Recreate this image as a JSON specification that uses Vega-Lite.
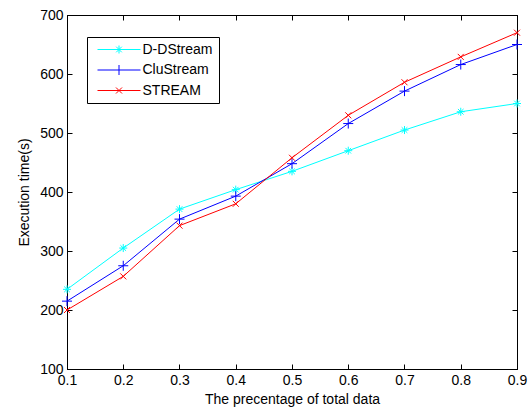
{
  "$schema": "https://vega.github.io/schema/vega-lite/v6.json",
  "width": 450,
  "height": 354,
  "autosize": "none",
  "padding": {"left": 67, "top": 15, "right": 15, "bottom": 38},
  "background": "white",
  "config": {
    "view": {"stroke": "black", "strokeWidth": 1},
    "font": "Liberation Sans",
    "axis": {
      "grid": false,
      "domainColor": "black",
      "tickColor": "black",
      "labelColor": "black",
      "titleColor": "black",
      "labelFont": "Liberation Sans",
      "titleFont": "Liberation Sans",
      "labelFontSize": 14,
      "titleFontSize": 14,
      "titleFontWeight": "normal",
      "tickSize": -5
    }
  },
  "resolve": {"axis": {"x": "independent", "y": "independent"}},
  "data": {
    "values": [
      {"series": "D-DStream", "x": 0.1, "y": 235},
      {"series": "D-DStream", "x": 0.2, "y": 305},
      {"series": "D-DStream", "x": 0.3, "y": 371},
      {"series": "D-DStream", "x": 0.4, "y": 404},
      {"series": "D-DStream", "x": 0.5, "y": 435},
      {"series": "D-DStream", "x": 0.6, "y": 470},
      {"series": "D-DStream", "x": 0.7, "y": 505},
      {"series": "D-DStream", "x": 0.8, "y": 536},
      {"series": "D-DStream", "x": 0.9, "y": 550},
      {"series": "CluStream", "x": 0.1, "y": 215},
      {"series": "CluStream", "x": 0.2, "y": 275},
      {"series": "CluStream", "x": 0.3, "y": 354},
      {"series": "CluStream", "x": 0.4, "y": 393},
      {"series": "CluStream", "x": 0.5, "y": 448},
      {"series": "CluStream", "x": 0.6, "y": 516},
      {"series": "CluStream", "x": 0.7, "y": 571},
      {"series": "CluStream", "x": 0.8, "y": 616},
      {"series": "CluStream", "x": 0.9, "y": 650},
      {"series": "STREAM", "x": 0.1, "y": 200},
      {"series": "STREAM", "x": 0.2, "y": 257},
      {"series": "STREAM", "x": 0.3, "y": 343},
      {"series": "STREAM", "x": 0.4, "y": 380},
      {"series": "STREAM", "x": 0.5, "y": 458},
      {"series": "STREAM", "x": 0.6, "y": 530},
      {"series": "STREAM", "x": 0.7, "y": 586},
      {"series": "STREAM", "x": 0.8, "y": 629},
      {"series": "STREAM", "x": 0.9, "y": 670}
    ]
  },
  "layer": [
    {
      "mark": {"type": "line", "strokeWidth": 1},
      "encoding": {
        "x": {
          "field": "x", "type": "quantitative",
          "scale": {"domain": [0.1, 0.9], "nice": false, "zero": false},
          "axis": {"orient": "bottom", "values": [0.1, 0.2, 0.3, 0.4, 0.5, 0.6, 0.7, 0.8, 0.9], "format": ".1f", "title": "The precentage of total data", "labelPadding": 9, "titleY": 30, "titleBaseline": "middle", "labelFlush": false}
        },
        "y": {
          "field": "y", "type": "quantitative",
          "scale": {"domain": [100, 700], "nice": false, "zero": false},
          "axis": {"orient": "left", "values": [100, 200, 300, 400, 500, 600, 700], "title": "Execution time(s)", "labelPadding": 9, "titleX": -43, "titleBaseline": "middle", "labelFlush": false}
        },
        "color": {
          "field": "series", "type": "nominal",
          "scale": {"domain": ["D-DStream", "CluStream", "STREAM"], "range": ["#00FFFF", "#0000FF", "#FF0000"]},
          "legend": {
            "title": null,
            "orient": "none",
            "legendX": 20,
            "legendY": 22,
            "padding": 5.5,
            "strokeColor": "black",
            "fillColor": "white",
            "symbolSize": 64,
            "symbolStrokeWidth": 1,
            "labelFont": "Liberation Sans",
            "labelFontSize": 14,
            "labelColor": "black",
            "labelOffset": 36,
            "rowPadding": 6.5,
            "labelLimit": 200,
            "encode": {
              "symbols": {
                "update": {
                  "shape": {"signal": "datum.value === 'D-DStream' ? 'M-0.5,0H10.25M4.875,-1V1M3.875,0H5.875M4.175,-0.7L5.575,0.7M4.175,0.7L5.575,-0.7' : datum.value === 'CluStream' ? 'M-0.5,0H10.25M4.875,-1.25V1.25' : 'M-0.5,0H10.25M4.125,-0.75L5.625,0.75M4.125,0.75L5.625,-0.75'"},
                  "strokeWidth": {"value": 1}
                }
              }
            }
          }
        }
      }
    },
    {
      "transform": [{"filter": "datum.series === 'D-DStream'"}],
      "mark": {"type": "point", "filled": false, "size": 64, "strokeWidth": 1, "color": "#00FFFF", "opacity": 1, "shape": "M-1,0H1M0,-1V1M-0.7,-0.7L0.7,0.7M-0.7,0.7L0.7,-0.7"},
      "encoding": {
        "x": {"field": "x", "type": "quantitative", "axis": null},
        "y": {"field": "y", "type": "quantitative", "axis": null}
      }
    },
    {
      "transform": [{"filter": "datum.series === 'CluStream'"}],
      "mark": {"type": "point", "filled": false, "size": 64, "strokeWidth": 1, "color": "#0000FF", "opacity": 1, "shape": "M-1.25,0H1.25M0,-1.25V1.25"},
      "encoding": {
        "x": {"field": "x", "type": "quantitative", "axis": null},
        "y": {"field": "y", "type": "quantitative", "axis": null}
      }
    },
    {
      "transform": [{"filter": "datum.series === 'STREAM'"}],
      "mark": {"type": "point", "filled": false, "size": 64, "strokeWidth": 1, "color": "#FF0000", "opacity": 1, "shape": "M-0.75,-0.75L0.75,0.75M-0.75,0.75L0.75,-0.75"},
      "encoding": {
        "x": {"field": "x", "type": "quantitative", "axis": null},
        "y": {"field": "y", "type": "quantitative", "axis": null}
      }
    },
    {
      "mark": {"type": "point", "opacity": 0},
      "encoding": {
        "x": {"field": "x", "type": "quantitative", "axis": {"orient": "top", "values": [0.1, 0.2, 0.3, 0.4, 0.5, 0.6, 0.7, 0.8, 0.9], "labels": false, "title": null}},
        "y": {"field": "y", "type": "quantitative", "axis": {"orient": "right", "values": [100, 200, 300, 400, 500, 600, 700], "labels": false, "title": null}}
      }
    }
  ]
}
